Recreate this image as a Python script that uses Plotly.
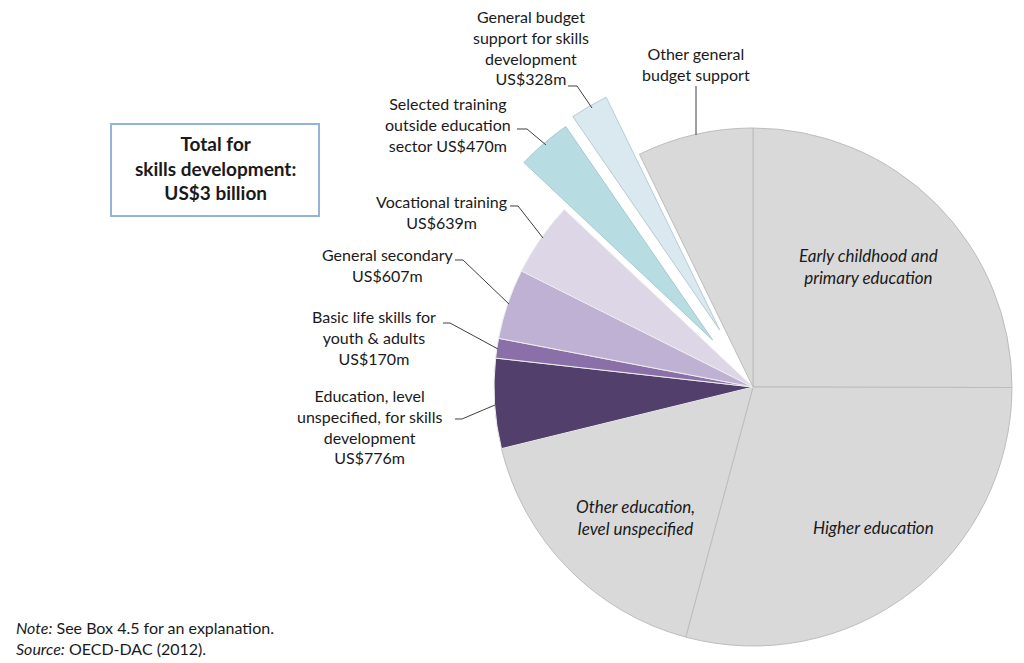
import math
import plotly.graph_objects as go

# page body has an 8px margin: draw in page pixel coords and convert
OFF = 8
W, H = 1016, 655

# ---- data (US$ millions) ----
categories = [
    "Early childhood and primary education",
    "Higher education",
    "Other education, level unspecified",
    "Education, level unspecified, for skills development",
    "Basic life skills for youth & adults",
    "General secondary",
    "Vocational training",
    "Selected training outside education sector",
    "General budget support for skills development",
    "Other general budget support",
]
values = [3465, 4035, 2352, 776, 170, 607, 639, 470, 328, 1000]
colors = ["#D9D9D9", "#D9D9D9", "#D9D9D9", "#533F6B", "#8B6FA9", "#BFB1D3",
          "#DDD6E7", "#B7DDE3", "#DAE9F0", "#D9D9D9"]
line_colors = ["#BDBDBD", "#BDBDBD", "#BDBDBD", "#EDEDED", "#EDEDED", "#EDEDED",
               "#EDEDED", "#A9C9CF", "#B9CBD3", "#BDBDBD"]
pulled = {7: 62, 8: 66}   # slice index -> pull distance (px)

# ---- geometry (page pixels) ----
CX, CY, R = 753, 387, 259


def px(x):
    return (x - OFF) / W


def py(y):
    return 1 - (y - OFF) / H


def dom(cx, cy, r):
    return dict(x=[px(cx - r), px(cx + r)], y=[py(cy + r), py(cy - r)])


total = sum(values)
cum = 0
mid_angle = []
for v in values:
    mid_angle.append((cum + v / 2) / total * 2 * math.pi)
    cum += v

fig = go.Figure()


def pie_trace(visible_idx, cx, cy):
    cols = [colors[i] if i in visible_idx else "rgba(0,0,0,0)" for i in range(len(values))]
    lcs = [line_colors[i] if i in visible_idx else "rgba(0,0,0,0)" for i in range(len(values))]
    return go.Pie(
        labels=categories, values=values, sort=False, direction="clockwise", rotation=0,
        marker=dict(colors=cols, line=dict(color=lcs, width=1)),
        textinfo="none", hoverinfo="skip", showlegend=False,
        domain=dom(cx, cy, R),
    )


main_idx = [i for i in range(len(values)) if i not in pulled]
fig.add_trace(pie_trace(main_idx, CX, CY))
for i, d in pulled.items():
    a = mid_angle[i]
    fig.add_trace(pie_trace([i], CX + d * math.sin(a), CY - d * math.cos(a)))

# ---- labels ----
FONT = "Lato, 'Open Sans', sans-serif"
TXT = "#1A1A1A"
ann = []


def label(text, x, y, size=16, italic=False, bold=False, xanchor="center"):
    if italic:
        text = "<i>" + text.replace("<br>", "</i><br><i>") + "</i>"
    if bold:
        text = "<b>" + text.replace("<br>", "</b><br><b>") + "</b>"
    ann.append(dict(text=text, x=px(x), y=py(y), xref="paper", yref="paper",
                    xanchor=xanchor, yanchor="middle", showarrow=False,
                    font=dict(family=FONT, size=size, color=TXT), align="center"))


label("General budget<br>support for skills<br>development<br>US$328m", 531, 48)
label("Other general<br>budget support", 696, 64)
label("Selected training<br>outside education<br>sector US$470m", 448, 124)
label("Vocational training<br>US$639m", 441, 212)
label("General secondary<br>US$607m", 388, 265)
label("Basic life skills for<br>youth & adults<br>US$170m", 374, 338)
label("Education, level<br>unspecified, for skills<br>development<br>US$776m", 369, 426)

label("Early childhood and<br>primary education", 868, 267, size=17, italic=True)
label("Higher education", 873, 527, size=17, italic=True)
label("Other education,<br>level unspecified", 635, 517, size=17, italic=True)

label("Total for<br>skills development:<br>US$3 billion", 215, 168, size=19, bold=True)

ann.append(dict(text="<i>Note:</i> See Box 4.5 for an explanation.<br><i>Source:</i> OECD-DAC (2012).",
                x=px(14), y=py(638), xref="paper", yref="paper", xanchor="left",
                yanchor="middle", showarrow=False, align="left",
                font=dict(family=FONT, size=16, color=TXT)))

# ---- leader lines and box ----
shapes = []


def poly(pts, color="#404040", width=1):
    path = "M " + " L ".join(f"{px(x):.5f},{py(y):.5f}" for x, y in pts)
    shapes.append(dict(type="path", path=path, xref="paper", yref="paper",
                       line=dict(color=color, width=width)))


poly([(568, 86), (577, 86), (592, 108)])
poly([(696, 86), (696, 135)])
poly([(517, 129), (527, 129), (546, 145)])
poly([(510, 206), (518, 206), (543, 238)])
poly([(455, 260), (463, 260), (509, 304)])
poly([(443, 323), (450, 323), (498, 349)])
poly([(455, 419), (462, 419), (495, 405)])

shapes.append(dict(type="rect", xref="paper", yref="paper",
                   x0=px(111), x1=px(319), y0=py(216), y1=py(124),
                   line=dict(color="#95B3D7", width=2), fillcolor="rgba(0,0,0,0)"))

fig.update_layout(width=W, height=H, margin=dict(l=0, r=0, t=0, b=0),
                  paper_bgcolor="white", plot_bgcolor="white",
                  annotations=ann, shapes=shapes)

fig.write_html("out.html")
